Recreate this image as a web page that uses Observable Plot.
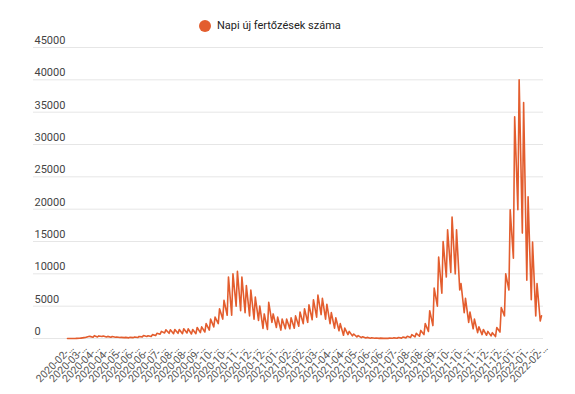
<!DOCTYPE html>
<html>
<head>
<meta charset="utf-8">
<script src="https://cdn.jsdelivr.net/npm/d3@7"></script>
<script src="https://cdn.jsdelivr.net/npm/@observablehq/plot@0.6"></script>
<style>
  body { margin: 0; background: #fff; font-family: Roboto, sans-serif; }
  #wrap { position: relative; width: 575px; height: 394px; }
  #legend { position: absolute; left: 199px; top: 19px; display: flex; align-items: center; font-size: 11px; color: #222; }
  #legend .dot { width: 12px; height: 12px; border-radius: 50%; margin-right: 6px; }
  #chart { position: absolute; left: 0; top: 0; }
</style>
</head>
<body>
<div id="wrap">
  <div id="chart"></div>
  <div id="legend"><span class="dot"></span><span class="txt"></span></div>
</div>
<script>
// ---- data ----
const seriesName = "Napi új fertőzések száma";
const lineColor = "#e35d2e";
const firstDate = "2020-02-26"; // a Wednesday; weekly values below
// weekly mid-week (Wednesday) values, week 0 = 2020-02-26
const wednesdayValues = [
  1, 3, 15, 60, 150, 330, 440, 400, 390, 330,
  300, 230, 180, 170, 180, 230, 320, 450, 430, 600,
  800, 1100, 1350, 1350, 1400, 1400, 1500, 1500, 1400, 1700,
  1800, 2300, 3000, 3300, 4600, 5900, 9500, 10000, 10400, 9500,
  8200, 7500, 6400, 5000, 3800, 5600, 3800, 3300, 3000, 3000,
  3200, 3500, 4100, 4600, 5200, 6000, 6700, 6200, 5300, 4000,
  3200, 2300, 1600, 1100, 700, 450, 280, 170, 110, 70,
  60, 50, 70, 100, 150, 230, 350, 600, 800, 1250,
  2300, 4300, 7800, 12600, 15000, 16800, 18800, 16800, 8500, 6200,
  4100, 3000, 1800, 1400, 1100, 900, 1700, 4800, 10000, 19900,
  34300, 40000, 36500, 21900, 14900, 8500, 3500
];
// following Monday values (weekend-test dip)
const mondayValues = [
  0, 2, 27, 140, 300, 190, 250, 300, 240, 200,
  190, 150, 130, 100, 130, 150, 250, 300, 300, 450,
  650, 850, 800, 750, 800, 750, 850, 700, 750, 900,
  1000, 1300, 1800, 2300, 3000, 3600, 3600, 5000, 4300, 4000,
  3500, 3000, 2800, 1550, 1400, 2500, 1700, 1300, 1500, 1500,
  1600, 1900, 2300, 2500, 2900, 3300, 3700, 3000, 2300, 1600,
  1200, 500, 600, 400, 250, 130, 80, 50, 30, 20,
  15, 20, 30, 40, 60, 100, 150, 250, 350, 600,
  1100, 2000, 5000, 7000, 9500, 10200, 10000, 7500, 4000, 2500,
  1500, 900, 600, 500, 400, 300, 1000, 3500, 7500, 12400,
  19900, 16300, 9000, 6000, 3500, 2700
];
const yTicks = [0, 5000, 10000, 15000, 20000, 25000, 30000, 35000, 40000, 45000];
const xTickLabels = [
  "2020-02-…","2020-03-…","2020-04-…","2020-04-…","2020-05-…","2020-06-…","2020-06-…",
  "2020-07-…","2020-08-…","2020-08-…","2020-09-…","2020-10-…","2020-10-…","2020-11-…",
  "2020-12-…","2020-12-…","2021-01-…","2021-02-…","2021-02-…","2021-03-…","2021-04-…",
  "2021-04-…","2021-05-…","2021-06-…","2021-06-…","2021-07-…","2021-08-…","2021-08-…",
  "2021-09-…","2021-10-…","2021-10-…","2021-11-…","2021-12-…","2021-12-…","2022-01-…",
  "2022-01-…","2022-02-…"
];
const tickFirst = "2020-03-04";
const tickLast = "2022-03-16";

// ---- build table ----
const DAY = 86400000;
const t0 = new Date(firstDate + "T00:00:00Z").getTime();
const rows = [];
wednesdayValues.forEach((v, w) => {
  rows.push({date: new Date(t0 + 7 * w * DAY), value: v});
  if (w < mondayValues.length) rows.push({date: new Date(t0 + (7 * w + 5) * DAY), value: mondayValues[w]});
});
const lastDate = rows[rows.length - 1].date;

const ta = new Date(tickFirst + "T00:00:00Z").getTime();
const tb = new Date(tickLast + "T00:00:00Z").getTime();
const tickDates = xTickLabels.map((_, i) => new Date(ta + (tb - ta) * i / (xTickLabels.length - 1)));
const labelByTime = new Map(tickDates.map((d, i) => [+d, xTickLabels[i]]));

const chart = Plot.plot({
  width: 575,
  height: 394,
  marginLeft: 33,
  marginRight: 32,
  marginTop: 47,
  marginBottom: 56,
  style: {fontFamily: "Roboto, sans-serif", fontSize: "11px", background: "transparent"},
  x: {type: "utc", domain: [new Date(t0), lastDate], range: [67, 541]},
  y: {domain: [0, 45000], axis: null},
  marks: [
    Plot.ruleY(yTicks, {stroke: "#e6e6e6", strokeWidth: 1}),
    Plot.text(yTicks, {y: d => d, text: d => String(d), frameAnchor: "left", textAnchor: "start", dx: 1, dy: -7, fill: "#444", fontSize: 11}),
    Plot.axisX(tickDates, {tickFormat: d => labelByTime.get(+d), tickRotate: -45, tickSize: 0, tickPadding: 8, fill: "#555", fontSize: 10.5, label: null}),
    Plot.lineY(rows, {x: "date", y: "value", stroke: lineColor, strokeWidth: 1.6, strokeLinejoin: "round"})
  ]
});
document.getElementById("chart").appendChild(chart);
document.querySelector("#legend .dot").style.background = lineColor;
document.querySelector("#legend .txt").textContent = seriesName;
</script>
</body>
</html>
